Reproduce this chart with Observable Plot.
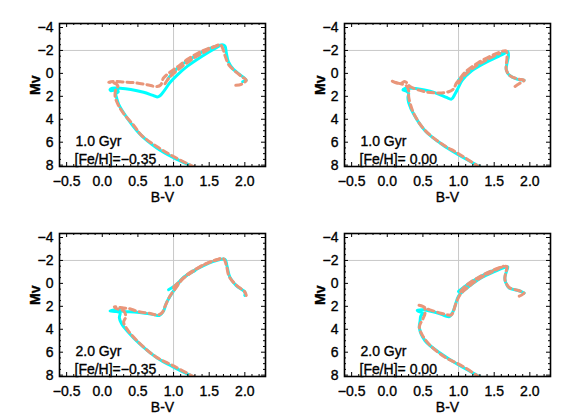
<!DOCTYPE html>
<html><head><meta charset="utf-8">
<script src="https://cdn.jsdelivr.net/npm/d3@7"></script>
<script src="https://cdn.jsdelivr.net/npm/@observablehq/plot@0.6"></script>
<style>
body{margin:0;background:#fff;}
#wrap{position:relative;width:570px;height:420px;background:#fff;}
.panel{position:absolute;width:285px;height:210px;}
.panel svg text{stroke:#000;stroke-width:0.35px;}
</style></head><body><div id="wrap"></div>
<script>
// axis settings
const xDomain = [-0.6, 2.29];
const yDomain = [-4.35, 8.12];
const xMajor = [-0.5, 0, 0.5, 1, 1.5, 2];
const yMajor = [-4, -2, 0, 2, 4, 6, 8];
const xMinorStep = 0.1, yMinorStep = 0.5;
const gridX = [1.0], gridY = [-2];

// panel labels
const ages = ["1.0 Gyr", "1.0 Gyr", "2.0 Gyr", "2.0 Gyr"];
const metals = ["[Fe/H]=\u22120.35", "[Fe/H]= 0.00", "[Fe/H]=\u22120.35", "[Fe/H]= 0.00"];

// ---- Panel 1 : 1.0 Gyr, [Fe/H]=-0.35 ----  [B-V, Mv]
const p1Cyan = [[1.28,8.15],[1.0,7.35],[0.765,6.5],[0.53,5.3],[0.345,3.85],[0.23,2.7],[0.2,2.1],[0.19,1.8],[0.225,1.6],[0.2,1.45],[0.12,1.5],[0.11,1.4],[0.14,1.3],[0.25,1.3],[0.4,1.4],[0.58,1.65],[0.7,1.9],[0.77,2.05],[0.81,1.95],[0.87,1.5],[0.95,0.8],[1.05,0.15],[1.2,-0.65],[1.4,-1.5],[1.6,-2.25],[1.68,-2.5],[1.72,-2.4],[1.74,-1.8],[1.77,-1.0],[1.84,-0.35],[1.93,0.1],[2.02,0.6],[1.97,0.72]];
const p1CyanAgb = [[0.92,0.5],[0.98,0.0],[1.1,-0.7],[1.3,-1.5],[1.5,-2.15],[1.65,-2.45]];
const p1Salmon = [[1.3,8.2],[1.0,7.25],[0.77,6.4],[0.55,5.4],[0.45,4.6],[0.3,3.5],[0.22,2.7],[0.18,2.0],[0.19,1.4],[0.22,1.1],[0.17,0.85],[0.09,0.78],[0.18,0.7],[0.3,0.75],[0.44,0.8],[0.62,0.98],[0.77,1.15],[0.82,1.0],[0.86,0.4],[0.95,-0.1],[1.05,-0.55],[1.2,-1.25],[1.4,-1.95],[1.6,-2.4],[1.66,-2.5],[1.7,-2.0],[1.73,-1.4],[1.78,-0.7],[1.87,-0.15],[1.96,0.3],[2.02,0.6],[1.95,0.95],[1.86,1.05]];
const p1SalmonAgb = [[0.88,0.9],[0.95,0.3],[1.1,-0.5],[1.3,-1.4],[1.5,-2.1],[1.62,-2.45]];

// ---- Panel 2 : 1.0 Gyr, [Fe/H]=0.00 ----
const p2Cyan = [[1.3,8.15],[1.0,7.1],[0.77,6.2],[0.53,5.0],[0.37,3.55],[0.3,2.55],[0.29,2.1],[0.3,1.75],[0.27,1.55],[0.22,1.45],[0.25,1.3],[0.35,1.3],[0.44,1.35],[0.6,1.55],[0.72,1.8],[0.83,2.1],[0.9,2.25],[0.95,1.8],[1.0,1.2],[1.05,0.6],[1.18,-0.2],[1.35,-0.85],[1.5,-1.3],[1.63,-1.7],[1.69,-1.9],[1.7,-1.5],[1.68,-0.9],[1.67,-0.3],[1.72,0.2],[1.82,0.5],[1.92,0.6]];
const p2CyanAgb = [[1.0,0.6],[1.1,0.0],[1.3,-0.8],[1.5,-1.45],[1.65,-1.85]];
const p2Salmon = [[1.3,8.2],[1.0,7.0],[0.75,6.1],[0.52,4.9],[0.38,3.6],[0.32,2.6],[0.3,2.0],[0.3,1.5],[0.27,1.1],[0.15,0.85],[0.07,0.68],[0.18,0.9],[0.25,0.72],[0.32,1.15],[0.53,1.6],[0.72,1.7],[0.86,1.6],[0.93,1.35],[0.97,0.85],[1.02,0.45],[1.1,-0.15],[1.28,-0.95],[1.5,-1.65],[1.63,-1.95],[1.67,-1.95],[1.68,-1.4],[1.67,-0.8],[1.67,-0.3],[1.72,0.2],[1.84,0.5],[1.92,0.6],[1.85,0.9],[1.79,1.15]];
const p2SalmonAgb = [[1.0,0.85],[1.05,0.4],[1.2,-0.45],[1.4,-1.2],[1.58,-1.75]];

// ---- Panel 3 : 2.0 Gyr, [Fe/H]=-0.35 ----
const p3Cyan = [[1.28,8.15],[1.0,7.3],[0.77,6.5],[0.53,5.3],[0.35,4.15],[0.27,3.5],[0.24,3.0],[0.25,2.55],[0.2,2.45],[0.11,2.4],[0.2,2.3],[0.3,2.45],[0.45,2.5],[0.6,2.6],[0.72,2.72],[0.8,2.8],[0.86,2.4],[0.9,1.7],[1.0,0.65],[1.14,-0.5],[1.37,-1.4],[1.6,-2.0],[1.72,-2.1],[1.75,-1.5],[1.79,-0.55],[1.88,0.2],[2.0,0.75],[2.0,1.05]];
const p3CyanAgb = [[0.93,0.55],[1.02,0.2],[1.15,-0.55],[1.3,-1.1]];
const p3Salmon = [[1.3,8.2],[1.0,7.2],[0.75,6.4],[0.52,5.2],[0.36,4.1],[0.3,3.4],[0.33,2.9],[0.3,2.4],[0.2,2.2],[0.17,2.05],[0.3,2.15],[0.38,2.2],[0.5,2.45],[0.65,2.6],[0.78,2.75],[0.84,2.55],[0.88,2.0],[0.95,1.1],[1.02,0.5],[1.15,-0.55],[1.37,-1.45],[1.6,-2.05],[1.7,-2.15],[1.74,-1.6],[1.78,-0.6],[1.88,0.15],[2.0,0.75],[2.02,1.05]];
const p3SalmonAgb = [[1.0,0.35],[1.1,-0.25],[1.25,-0.95],[1.45,-1.7],[1.65,-2.15]];

// ---- Panel 4 : 2.0 Gyr, [Fe/H]=0.00 ----
const p4Cyan = [[1.3,8.15],[1.0,7.1],[0.77,6.2],[0.53,5.0],[0.45,3.9],[0.46,3.3],[0.47,2.85],[0.5,2.6],[0.44,2.45],[0.42,2.35],[0.5,2.3],[0.58,2.38],[0.72,2.6],[0.82,2.85],[0.87,2.9],[0.92,2.5],[0.95,2.0],[1.0,1.1],[1.09,0.55],[1.32,-0.5],[1.51,-1.05],[1.65,-1.4],[1.69,-1.45],[1.67,-1.0],[1.65,-0.5],[1.66,-0.1],[1.71,0.4],[1.84,0.62],[1.92,0.85]];
const p4CyanAgb = [[1.0,0.7],[1.07,0.35],[1.2,-0.2],[1.4,-0.9],[1.6,-1.35]];
const p4Salmon = [[1.3,8.2],[1.05,7.2],[0.8,6.4],[0.6,5.4],[0.5,4.6],[0.45,3.8],[0.5,3.1],[0.53,2.6],[0.52,2.1],[0.43,1.9],[0.5,2.0],[0.55,2.2],[0.62,2.35],[0.75,2.6],[0.85,2.75],[0.9,2.75],[0.93,2.4],[0.96,1.8],[1.02,1.0],[1.1,0.5],[1.3,-0.45],[1.5,-1.1],[1.65,-1.5],[1.68,-1.45],[1.66,-0.9],[1.65,-0.4],[1.67,0.0],[1.72,0.4],[1.84,0.62],[1.92,0.85],[1.84,1.15]];
const p4SalmonAgb = [[1.03,0.7],[1.1,0.2],[1.3,-0.6],[1.5,-1.2],[1.63,-1.5]];

const cyanSets = [[p1Cyan,p1CyanAgb],[p2Cyan,p2CyanAgb],[p3Cyan,p3CyanAgb],[p4Cyan,p4CyanAgb]];
const salmonSets = [[p1Salmon,p1SalmonAgb],[p2Salmon,p2SalmonAgb],[p3Salmon,p3SalmonAgb],[p4Salmon,p4SalmonAgb]];

const W = 285, H = 210, mL = 59, mR = 20, mT = 23, mB = 44;
const plotW = W - mL - mR, plotH = H - mT - mB;
const pxX = (xDomain[1]-xDomain[0]) / plotW;
const pxY = (yDomain[1]-yDomain[0]) / plotH;
const font = "'Liberation Sans', Arial, sans-serif";
const fs = 14;

function rows(sets){
  const out = [];
  sets.forEach((seg, s) => seg.forEach(([bv, mv]) => out.push({bv, mv, seg: s})));
  return out;
}
function minorTicks(dom, step, major){
  const t = [];
  for (let v = Math.ceil(dom[0]/step - 1e-9)*step; v <= dom[1]+1e-9; v += step){
    const r = Math.round(v*100)/100;
    if (!major.some(m => Math.abs(m - r) < 1e-6)) t.push(r);
  }
  return t;
}
const xMinor = minorTicks(xDomain, xMinorStep, xMajor);
const yMinor = minorTicks(yDomain, yMinorStep, yMajor);

function tickMarks(){
  const m = [];
  const bigY = 4*pxY, smallY = 2*pxY, bigX = 4*pxX, smallX = 2*pxX;
  const sty = {stroke: "black", strokeWidth: 1};
  [[xMajor, bigY],[xMinor, smallY]].forEach(([t, L]) => {
    m.push(Plot.ruleX(t, {x: d => d, y1: yDomain[1], y2: yDomain[1]-L, ...sty}));
    m.push(Plot.ruleX(t, {x: d => d, y1: yDomain[0], y2: yDomain[0]+L, ...sty}));
  });
  [[yMajor, bigX],[yMinor, smallX]].forEach(([t, L]) => {
    m.push(Plot.ruleY(t, {y: d => d, x1: xDomain[0], x2: xDomain[0]+L, ...sty}));
    m.push(Plot.ruleY(t, {y: d => d, x1: xDomain[1], x2: xDomain[1]-L, ...sty}));
  });
  return m;
}

const wrap = document.getElementById("wrap");
for (let i = 0; i < 4; i++){
  const chart = Plot.plot({
    width: W, height: H, marginLeft: mL, marginRight: mR, marginTop: mT, marginBottom: mB,
    style: {fontFamily: font, fontSize: fs + "px", color: "black", background: "white"},
    x: {domain: xDomain},
    y: {domain: yDomain, reverse: true},
    marks: [
      Plot.ruleX(gridX, {stroke: "#c8c8c8", strokeWidth: 1}),
      Plot.ruleY(gridY, {stroke: "#c8c8c8", strokeWidth: 1}),
      Plot.line(rows(cyanSets[i]), {x: "bv", y: "mv", z: "seg", stroke: "#00FFFF", strokeWidth: 3, curve: "catmull-rom", clip: true}),
      Plot.line(rows(salmonSets[i]), {x: "bv", y: "mv", z: "seg", stroke: "#E9967A", strokeWidth: 3, strokeDasharray: "6,4", curve: "catmull-rom", clip: true}),
      ...tickMarks(),
      Plot.frame({stroke: "black", strokeWidth: 1.6}),
      Plot.axisX(xMajor, {anchor: "bottom", tickSize: 0, tickPadding: 10, tickFormat: d3.format(".1f"), label: null, fontSize: fs}),
      Plot.axisY(yMajor, {anchor: "left", tickSize: 0, tickPadding: 6, tickFormat: d3.format("d"), label: null, fontSize: fs}),
      Plot.text(["B-V"], {frameAnchor: "bottom", dy: 31, lineAnchor: "middle", fontSize: fs}),
      Plot.text(["Mv"], {frameAnchor: "left", dx: -24, rotate: -90, lineAnchor: "middle", fontSize: fs, fontWeight: "bold"}),
      Plot.text([ages[i]], {frameAnchor: "bottom-left", dx: 16, dy: -21, textAnchor: "start", lineAnchor: "bottom", fontSize: fs}),
      Plot.text([metals[i]], {frameAnchor: "bottom-left", dx: 15, dy: -3, textAnchor: "start", lineAnchor: "bottom", fontSize: fs})
    ]
  });
  const div = document.createElement("div");
  div.className = "panel";
  div.style.left = (i % 2) * W + "px";
  div.style.top = Math.floor(i / 2) * H + "px";
  div.appendChild(chart);
  wrap.appendChild(div);
}
</script></body></html>
